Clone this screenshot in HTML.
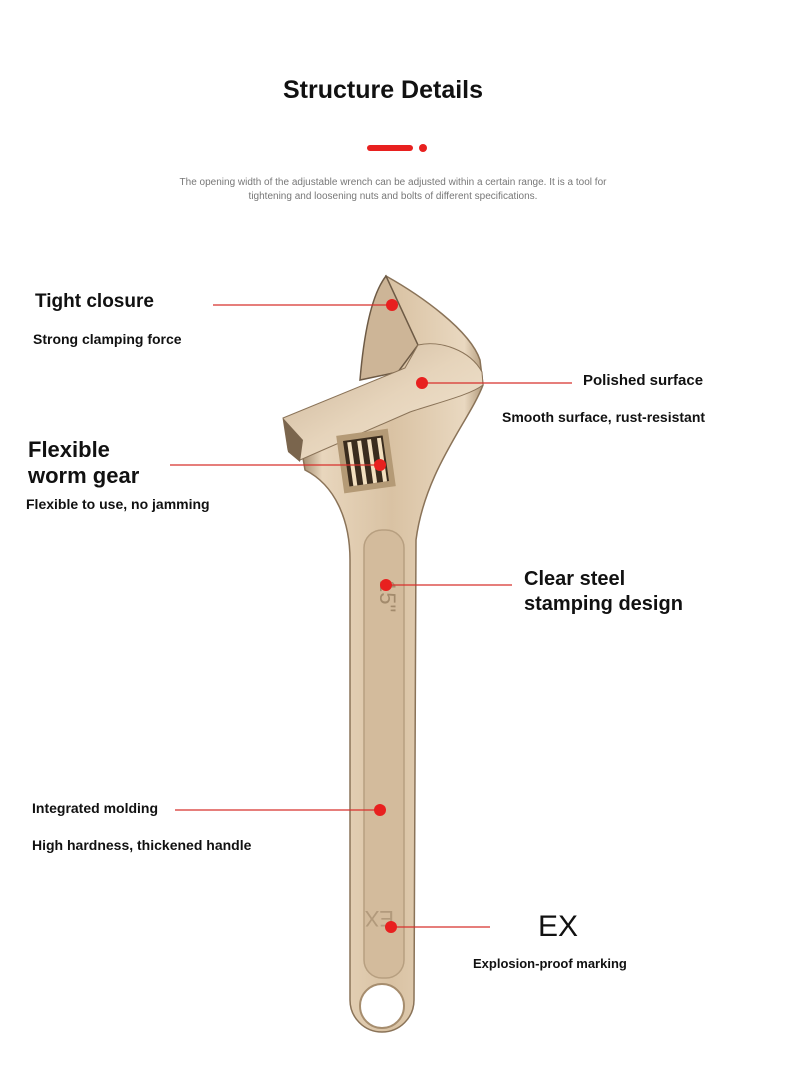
<!DOCTYPE html>
<html><head><meta charset="utf-8"><style>
html,body{margin:0;padding:0;background:#fff;}
body{width:790px;height:1079px;position:relative;overflow:hidden;font-family:"Liberation Sans",sans-serif;color:#111;}
.t{position:absolute;white-space:nowrap;font-weight:bold;}
</style></head><body>
<svg width="790" height="1079" style="position:absolute;left:0;top:0">
<defs>
<linearGradient id="h" x1="0" x2="1" y1="0" y2="0">
<stop offset="0" stop-color="#9c8466"/><stop offset="0.12" stop-color="#e8d6bd"/><stop offset="0.5" stop-color="#d9c2a3"/><stop offset="0.9" stop-color="#e9d8c0"/><stop offset="1" stop-color="#b29a7b"/>
</linearGradient>
<linearGradient id="hd" x1="0" x2="1" y1="0" y2="1">
<stop offset="0" stop-color="#c9b296"/><stop offset="0.5" stop-color="#e6d4bb"/><stop offset="1" stop-color="#f2e6d3"/>
</linearGradient>
</defs>
<!-- body -->
<path d="M386,276 C420,295 470,330 480,360 L483,385 C470,420 425,470 416,540 L414,1000 A32,32 0 0 1 350,1000 L350,560 C350,520 335,485 305,470 L300,440 L390,400 Z" fill="url(#h)" stroke="#8a7358" stroke-width="1.5"/>
<!-- upper jaw face -->
<path d="M386,276 C375,290 365,320 360,380 L398,372 L418,345 Z" fill="#cdb597" stroke="#6d5a45" stroke-width="1.5"/>
<!-- movable jaw block -->
<path d="M283,418 L405,368 L418,345 C440,340 470,350 482,372 L483,385 C470,395 440,402 410,412 L300,460 L288,450 Z" fill="url(#hd)" stroke="#8a7358" stroke-width="1"/>
<path d="M283,418 L288,452 L300,462 L303,440 Z" fill="#7a654d"/>
<!-- worm gear window -->
<rect x="340" y="432" width="52" height="58" fill="#b49a76" transform="rotate(-8 366 461)"/>
<rect x="346" y="438" width="40" height="46" fill="#3a2c1e" transform="rotate(-8 366 461)"/>
<g stroke="#f2dfbf" stroke-width="4" fill="none" transform="rotate(-8 366 461)">
<path d="M352,440 v44"/><path d="M362,440 v44"/><path d="M372,440 v44"/><path d="M382,440 v44"/></g>
<!-- handle panel -->
<rect x="364" y="530" width="40" height="448" rx="18" fill="#d3bb9c" stroke="#b79f80" stroke-width="1.5"/>
<text x="380" y="590" font-size="22" fill="#a28a6c" transform="rotate(90 385 585)" font-family="Liberation Sans">15"</text>
<text x="372" y="925" font-size="22" fill="#b29a7c" transform="rotate(180 383 918)" font-family="Liberation Sans">EX</text>
<!-- ring hole -->
<circle cx="382" cy="1006" r="22" fill="#fff" stroke="#a68d6e" stroke-width="2"/>
<!-- red lines -->
<g stroke="#d8302c" stroke-width="1.2">
<line x1="213" y1="305" x2="390" y2="305"/>
<line x1="422" y1="383" x2="572" y2="383"/>
<line x1="170" y1="465" x2="380" y2="465"/>
<line x1="386" y1="585" x2="512" y2="585"/>
<line x1="175" y1="810" x2="380" y2="810"/>
<line x1="390" y1="927" x2="490" y2="927"/>
</g>
<g fill="#e8201f">
<circle cx="392" cy="305" r="6"/><circle cx="422" cy="383" r="6"/><circle cx="380" cy="465" r="6"/>
<circle cx="386" cy="585" r="6"/><circle cx="380" cy="810" r="6"/><circle cx="391" cy="927" r="6"/>
<rect x="367" y="145" width="46" height="6" rx="3"/><circle cx="423" cy="148" r="4"/>
</g>
</svg>
<div class="t" style="left:0;width:766px;text-align:center;top:76px;font-size:25px;">Structure Details</div>
<div style="position:absolute;left:0;width:786px;text-align:center;top:176px;font-size:10px;color:#777;line-height:14px;">The opening width of the adjustable wrench can be adjusted within a certain range. It is a tool for<br>tightening and loosening nuts and bolts of different specifications.</div>
<div class="t" style="left:35px;top:291px;font-size:19px;">Tight closure</div>
<div class="t" style="left:33px;top:331px;font-size:14px;">Strong clamping force</div>
<div class="t" style="left:583px;top:372px;font-size:15px;">Polished surface</div>
<div class="t" style="left:502px;top:409px;font-size:14px;">Smooth surface, rust-resistant</div>
<div class="t" style="left:28px;top:437px;font-size:22px;line-height:26px;">Flexible<br>worm gear</div>
<div class="t" style="left:26px;top:496px;font-size:14px;">Flexible to use, no jamming</div>
<div class="t" style="left:524px;top:567px;font-size:20px;line-height:25px;">Clear steel<br>stamping design</div>
<div class="t" style="left:32px;top:800px;font-size:14px;">Integrated molding</div>
<div class="t" style="left:32px;top:837px;font-size:14px;">High hardness, thickened handle</div>
<div class="t" style="left:538px;top:910px;font-size:30px;font-weight:normal;">EX</div>
<div class="t" style="left:473px;top:956px;font-size:13px;">Explosion-proof marking</div>
</body></html>
